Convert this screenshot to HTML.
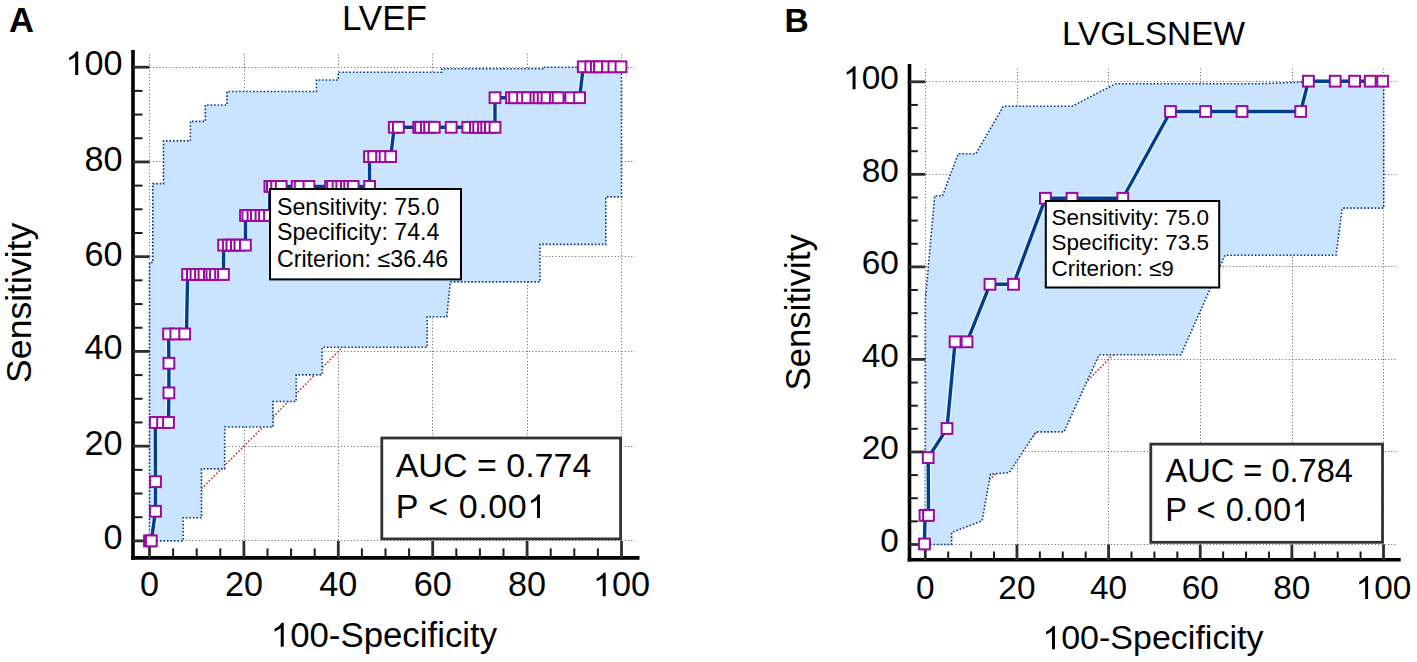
<!DOCTYPE html>
<html><head><meta charset="utf-8"><style>
html,body{margin:0;padding:0;background:#fff;width:1417px;height:662px;overflow:hidden}
svg{display:block}
text{font-family:'Liberation Sans',sans-serif;fill:#000}
</style></head><body>
<svg width="1417" height="662" viewBox="0 0 1417 662">
<rect width="1417" height="662" fill="#fff"/>
<g stroke="#5e5e5e" stroke-width="1" stroke-dasharray="1 2.3" fill="none"><line x1="149.5" y1="53.9" x2="149.5" y2="557.9"/><line x1="133" y1="540.5" x2="635" y2="540.5"/><line x1="244.5" y1="53.9" x2="244.5" y2="557.9"/><line x1="133" y1="446.5" x2="635" y2="446.5"/><line x1="338.5" y1="53.9" x2="338.5" y2="557.9"/><line x1="133" y1="351.5" x2="635" y2="351.5"/><line x1="432.5" y1="53.9" x2="432.5" y2="557.9"/><line x1="133" y1="256.5" x2="635" y2="256.5"/><line x1="527.5" y1="53.9" x2="527.5" y2="557.9"/><line x1="133" y1="161.5" x2="635" y2="161.5"/><line x1="621.5" y1="53.9" x2="621.5" y2="557.9"/><line x1="133" y1="67.5" x2="635" y2="67.5"/></g>
<line x1="149.5" y1="540.9" x2="621.5" y2="67.2" stroke="#c0302a" stroke-width="1.6" stroke-dasharray="1.6 1.9"/>
<polygon points="149.5,540.9 149.5,262.4 152.8,262.4 152.8,183.6 163.5,183.6 163.5,140.9 190.4,140.9 190.4,121.4 205.3,121.4 205.3,105 227,105 227,91.5 316.4,91.5 316.4,80 338.3,80 338.3,72.2 441.7,72.2 441.7,68.7 542.6,68.7 542.6,67.2 621.5,67.2 621.5,196.9 605.8,196.9 605.8,244.4 540,244.4 540,281.9 450.3,281.9 446.8,316.7 427.2,316.7 427.2,347.3 322.1,347.3 322.1,374.9 296.2,374.9 296.2,401.5 273,401.5 273,427 224.7,427 224.7,468.9 201.5,468.9 201.5,517.8 183.2,517.8 183.2,540.9" fill="#cae4ff" stroke="none"/>
<polygon points="149.5,540.9 149.5,262.4 152.8,262.4 152.8,183.6 163.5,183.6 163.5,140.9 190.4,140.9 190.4,121.4 205.3,121.4 205.3,105 227,105 227,91.5 316.4,91.5 316.4,80 338.3,80 338.3,72.2 441.7,72.2 441.7,68.7 542.6,68.7 542.6,67.2 621.5,67.2 621.5,196.9 605.8,196.9 605.8,244.4 540,244.4 540,281.9 450.3,281.9 446.8,316.7 427.2,316.7 427.2,347.3 322.1,347.3 322.1,374.9 296.2,374.9 296.2,401.5 273,401.5 273,427 224.7,427 224.7,468.9 201.5,468.9 201.5,517.8 183.2,517.8 183.2,540.9" fill="none" stroke="#08398f" stroke-width="1.6" stroke-dasharray="1.6 1.9"/>
<g fill="none">
<line x1="133" y1="50" x2="133" y2="559.7" stroke="#000" stroke-width="3.6"/>
<line x1="131.2" y1="557.9" x2="639.5" y2="557.9" stroke="#000" stroke-width="3.6"/>
<line x1="133" y1="540.9" x2="149.5" y2="540.9" stroke="#2e2e2e" stroke-width="2.8"/><line x1="149.5" y1="557.9" x2="149.5" y2="540.9" stroke="#2e2e2e" stroke-width="2.8"/><line x1="133" y1="517.21" x2="142.5" y2="517.21" stroke="#1a1a1a" stroke-width="2"/><line x1="173.1" y1="557.9" x2="173.1" y2="548.4" stroke="#1a1a1a" stroke-width="2"/><line x1="133" y1="493.53" x2="142.5" y2="493.53" stroke="#1a1a1a" stroke-width="2"/><line x1="196.7" y1="557.9" x2="196.7" y2="548.4" stroke="#1a1a1a" stroke-width="2"/><line x1="133" y1="469.84" x2="142.5" y2="469.84" stroke="#1a1a1a" stroke-width="2"/><line x1="220.3" y1="557.9" x2="220.3" y2="548.4" stroke="#1a1a1a" stroke-width="2"/><line x1="133" y1="446.16" x2="149.5" y2="446.16" stroke="#2e2e2e" stroke-width="2.8"/><line x1="243.9" y1="557.9" x2="243.9" y2="540.9" stroke="#2e2e2e" stroke-width="2.8"/><line x1="133" y1="422.47" x2="142.5" y2="422.47" stroke="#1a1a1a" stroke-width="2"/><line x1="267.5" y1="557.9" x2="267.5" y2="548.4" stroke="#1a1a1a" stroke-width="2"/><line x1="133" y1="398.79" x2="142.5" y2="398.79" stroke="#1a1a1a" stroke-width="2"/><line x1="291.1" y1="557.9" x2="291.1" y2="548.4" stroke="#1a1a1a" stroke-width="2"/><line x1="133" y1="375.1" x2="142.5" y2="375.1" stroke="#1a1a1a" stroke-width="2"/><line x1="314.7" y1="557.9" x2="314.7" y2="548.4" stroke="#1a1a1a" stroke-width="2"/><line x1="133" y1="351.42" x2="149.5" y2="351.42" stroke="#2e2e2e" stroke-width="2.8"/><line x1="338.3" y1="557.9" x2="338.3" y2="540.9" stroke="#2e2e2e" stroke-width="2.8"/><line x1="133" y1="327.74" x2="142.5" y2="327.74" stroke="#1a1a1a" stroke-width="2"/><line x1="361.9" y1="557.9" x2="361.9" y2="548.4" stroke="#1a1a1a" stroke-width="2"/><line x1="133" y1="304.05" x2="142.5" y2="304.05" stroke="#1a1a1a" stroke-width="2"/><line x1="385.5" y1="557.9" x2="385.5" y2="548.4" stroke="#1a1a1a" stroke-width="2"/><line x1="133" y1="280.36" x2="142.5" y2="280.36" stroke="#1a1a1a" stroke-width="2"/><line x1="409.1" y1="557.9" x2="409.1" y2="548.4" stroke="#1a1a1a" stroke-width="2"/><line x1="133" y1="256.68" x2="149.5" y2="256.68" stroke="#2e2e2e" stroke-width="2.8"/><line x1="432.7" y1="557.9" x2="432.7" y2="540.9" stroke="#2e2e2e" stroke-width="2.8"/><line x1="133" y1="232.99" x2="142.5" y2="232.99" stroke="#1a1a1a" stroke-width="2"/><line x1="456.3" y1="557.9" x2="456.3" y2="548.4" stroke="#1a1a1a" stroke-width="2"/><line x1="133" y1="209.31" x2="142.5" y2="209.31" stroke="#1a1a1a" stroke-width="2"/><line x1="479.9" y1="557.9" x2="479.9" y2="548.4" stroke="#1a1a1a" stroke-width="2"/><line x1="133" y1="185.62" x2="142.5" y2="185.62" stroke="#1a1a1a" stroke-width="2"/><line x1="503.5" y1="557.9" x2="503.5" y2="548.4" stroke="#1a1a1a" stroke-width="2"/><line x1="133" y1="161.94" x2="149.5" y2="161.94" stroke="#2e2e2e" stroke-width="2.8"/><line x1="527.1" y1="557.9" x2="527.1" y2="540.9" stroke="#2e2e2e" stroke-width="2.8"/><line x1="133" y1="138.25" x2="142.5" y2="138.25" stroke="#1a1a1a" stroke-width="2"/><line x1="550.7" y1="557.9" x2="550.7" y2="548.4" stroke="#1a1a1a" stroke-width="2"/><line x1="133" y1="114.57" x2="142.5" y2="114.57" stroke="#1a1a1a" stroke-width="2"/><line x1="574.3" y1="557.9" x2="574.3" y2="548.4" stroke="#1a1a1a" stroke-width="2"/><line x1="133" y1="90.88" x2="142.5" y2="90.88" stroke="#1a1a1a" stroke-width="2"/><line x1="597.9" y1="557.9" x2="597.9" y2="548.4" stroke="#1a1a1a" stroke-width="2"/><line x1="133" y1="67.2" x2="149.5" y2="67.2" stroke="#2e2e2e" stroke-width="2.8"/><line x1="621.5" y1="557.9" x2="621.5" y2="540.9" stroke="#2e2e2e" stroke-width="2.8"/>
</g>
<polyline points="149.5,540.9 151.3,540.9 155.5,511.29 155.5,481.69 155.3,422.47 162.6,422.47 168.5,422.47 168.9,392.87 168.9,363.26 168.6,333.96 175.8,333.96 184.7,333.96 186.5,333.96 187.6,274.44 192.4,274.44 196,274.44 200.5,274.44 204,274.44 209.4,274.44 211.9,274.44 215.4,274.44 220.6,274.44 223.5,274.44 223.6,245.14 228.3,245.14 231.9,245.14 236.4,245.14 239.9,245.14 245.4,245.14 245.5,215.43 247.9,215.43 253,215.43 256.4,215.43 261,215.43 264.5,215.43 269.5,215.43 269.9,186.42 272.4,186.42 276.7,186.42 281.2,186.42 297.2,186.42 300.2,186.42 309,186.42 330.5,186.42 332.6,186.42 338.1,186.42 341.8,186.42 346.4,186.42 349.7,186.42 353.2,186.42 369.6,186.42 369.5,156.62 373.7,156.62 381.6,156.62 385.1,156.62 390.7,156.62 394.3,127.31 398.4,127.31 418.7,127.31 420.6,127.31 426.4,127.31 429.6,127.31 434.3,127.31 451.2,127.31 467.8,127.31 475.4,127.31 478.7,127.31 483.5,127.31 486.7,127.31 490.4,127.31 495,127.31 495,97.71 511.5,97.71 514.6,97.71 522.6,97.71 527.6,97.71 535.9,97.71 539.1,97.71 543.2,97.71 547,97.71 555.3,97.71 558.1,97.71 570.8,97.71 579.6,97.71 583.3,66.8 590.8,66.8 596.3,66.8 599.5,66.8 607.5,66.8 613.9,66.8 621,66.8" fill="none" stroke="#e4f8ff" stroke-width="6" stroke-linejoin="round"/>
<polyline points="149.5,540.9 151.3,540.9 155.5,511.29 155.5,481.69 155.3,422.47 162.6,422.47 168.5,422.47 168.9,392.87 168.9,363.26 168.6,333.96 175.8,333.96 184.7,333.96 186.5,333.96 187.6,274.44 192.4,274.44 196,274.44 200.5,274.44 204,274.44 209.4,274.44 211.9,274.44 215.4,274.44 220.6,274.44 223.5,274.44 223.6,245.14 228.3,245.14 231.9,245.14 236.4,245.14 239.9,245.14 245.4,245.14 245.5,215.43 247.9,215.43 253,215.43 256.4,215.43 261,215.43 264.5,215.43 269.5,215.43 269.9,186.42 272.4,186.42 276.7,186.42 281.2,186.42 297.2,186.42 300.2,186.42 309,186.42 330.5,186.42 332.6,186.42 338.1,186.42 341.8,186.42 346.4,186.42 349.7,186.42 353.2,186.42 369.6,186.42 369.5,156.62 373.7,156.62 381.6,156.62 385.1,156.62 390.7,156.62 394.3,127.31 398.4,127.31 418.7,127.31 420.6,127.31 426.4,127.31 429.6,127.31 434.3,127.31 451.2,127.31 467.8,127.31 475.4,127.31 478.7,127.31 483.5,127.31 486.7,127.31 490.4,127.31 495,127.31 495,97.71 511.5,97.71 514.6,97.71 522.6,97.71 527.6,97.71 535.9,97.71 539.1,97.71 543.2,97.71 547,97.71 555.3,97.71 558.1,97.71 570.8,97.71 579.6,97.71 583.3,66.8 590.8,66.8 596.3,66.8 599.5,66.8 607.5,66.8 613.9,66.8 621,66.8" fill="none" stroke="#033d90" stroke-width="3.4" stroke-linejoin="round"/>
<g fill="#fff" stroke="#9a0aa0" stroke-width="2"><rect x="144.1" y="535.5" width="10.8" height="10.8"/><rect x="145.9" y="535.5" width="10.8" height="10.8"/><rect x="150.1" y="505.89" width="10.8" height="10.8"/><rect x="150.1" y="476.29" width="10.8" height="10.8"/><rect x="149.9" y="417.07" width="10.8" height="10.8"/><rect x="157.2" y="417.07" width="10.8" height="10.8"/><rect x="163.1" y="417.07" width="10.8" height="10.8"/><rect x="163.5" y="387.47" width="10.8" height="10.8"/><rect x="163.5" y="357.86" width="10.8" height="10.8"/><rect x="163.2" y="328.56" width="10.8" height="10.8"/><rect x="170.4" y="328.56" width="10.8" height="10.8"/><rect x="179.3" y="328.56" width="10.8" height="10.8"/><rect x="182.2" y="269.04" width="10.8" height="10.8"/><rect x="187" y="269.04" width="10.8" height="10.8"/><rect x="190.6" y="269.04" width="10.8" height="10.8"/><rect x="195.1" y="269.04" width="10.8" height="10.8"/><rect x="198.6" y="269.04" width="10.8" height="10.8"/><rect x="204" y="269.04" width="10.8" height="10.8"/><rect x="206.5" y="269.04" width="10.8" height="10.8"/><rect x="210" y="269.04" width="10.8" height="10.8"/><rect x="215.2" y="269.04" width="10.8" height="10.8"/><rect x="218.1" y="269.04" width="10.8" height="10.8"/><rect x="218.2" y="239.74" width="10.8" height="10.8"/><rect x="222.9" y="239.74" width="10.8" height="10.8"/><rect x="226.5" y="239.74" width="10.8" height="10.8"/><rect x="231" y="239.74" width="10.8" height="10.8"/><rect x="234.5" y="239.74" width="10.8" height="10.8"/><rect x="240" y="239.74" width="10.8" height="10.8"/><rect x="240.1" y="210.03" width="10.8" height="10.8"/><rect x="242.5" y="210.03" width="10.8" height="10.8"/><rect x="247.6" y="210.03" width="10.8" height="10.8"/><rect x="251" y="210.03" width="10.8" height="10.8"/><rect x="255.6" y="210.03" width="10.8" height="10.8"/><rect x="259.1" y="210.03" width="10.8" height="10.8"/><rect x="264.1" y="210.03" width="10.8" height="10.8"/><rect x="264.5" y="181.02" width="10.8" height="10.8"/><rect x="267" y="181.02" width="10.8" height="10.8"/><rect x="271.3" y="181.02" width="10.8" height="10.8"/><rect x="275.8" y="181.02" width="10.8" height="10.8"/><rect x="291.8" y="181.02" width="10.8" height="10.8"/><rect x="294.8" y="181.02" width="10.8" height="10.8"/><rect x="303.6" y="181.02" width="10.8" height="10.8"/><rect x="325.1" y="181.02" width="10.8" height="10.8"/><rect x="327.2" y="181.02" width="10.8" height="10.8"/><rect x="332.7" y="181.02" width="10.8" height="10.8"/><rect x="336.4" y="181.02" width="10.8" height="10.8"/><rect x="341" y="181.02" width="10.8" height="10.8"/><rect x="344.3" y="181.02" width="10.8" height="10.8"/><rect x="347.8" y="181.02" width="10.8" height="10.8"/><rect x="364.2" y="181.02" width="10.8" height="10.8"/><rect x="364.1" y="151.22" width="10.8" height="10.8"/><rect x="368.3" y="151.22" width="10.8" height="10.8"/><rect x="376.2" y="151.22" width="10.8" height="10.8"/><rect x="379.7" y="151.22" width="10.8" height="10.8"/><rect x="385.3" y="151.22" width="10.8" height="10.8"/><rect x="388.9" y="121.91" width="10.8" height="10.8"/><rect x="393" y="121.91" width="10.8" height="10.8"/><rect x="413.3" y="121.91" width="10.8" height="10.8"/><rect x="415.2" y="121.91" width="10.8" height="10.8"/><rect x="421" y="121.91" width="10.8" height="10.8"/><rect x="424.2" y="121.91" width="10.8" height="10.8"/><rect x="428.9" y="121.91" width="10.8" height="10.8"/><rect x="445.8" y="121.91" width="10.8" height="10.8"/><rect x="462.4" y="121.91" width="10.8" height="10.8"/><rect x="470" y="121.91" width="10.8" height="10.8"/><rect x="473.3" y="121.91" width="10.8" height="10.8"/><rect x="478.1" y="121.91" width="10.8" height="10.8"/><rect x="481.3" y="121.91" width="10.8" height="10.8"/><rect x="485" y="121.91" width="10.8" height="10.8"/><rect x="489.6" y="121.91" width="10.8" height="10.8"/><rect x="489.6" y="92.31" width="10.8" height="10.8"/><rect x="506.1" y="92.31" width="10.8" height="10.8"/><rect x="509.2" y="92.31" width="10.8" height="10.8"/><rect x="517.2" y="92.31" width="10.8" height="10.8"/><rect x="522.2" y="92.31" width="10.8" height="10.8"/><rect x="530.5" y="92.31" width="10.8" height="10.8"/><rect x="533.7" y="92.31" width="10.8" height="10.8"/><rect x="537.8" y="92.31" width="10.8" height="10.8"/><rect x="541.6" y="92.31" width="10.8" height="10.8"/><rect x="549.9" y="92.31" width="10.8" height="10.8"/><rect x="552.7" y="92.31" width="10.8" height="10.8"/><rect x="565.4" y="92.31" width="10.8" height="10.8"/><rect x="574.2" y="92.31" width="10.8" height="10.8"/><rect x="577.9" y="61.4" width="10.8" height="10.8"/><rect x="585.4" y="61.4" width="10.8" height="10.8"/><rect x="590.9" y="61.4" width="10.8" height="10.8"/><rect x="594.1" y="61.4" width="10.8" height="10.8"/><rect x="602.1" y="61.4" width="10.8" height="10.8"/><rect x="608.5" y="61.4" width="10.8" height="10.8"/><rect x="615.6" y="61.4" width="10.8" height="10.8"/></g>
<rect x="270" y="189" width="191" height="90.4" fill="#fff" stroke="#000" stroke-width="2"/>
<text x="277" y="214.5" font-size="23.2">Sensitivity: 75.0</text>
<text x="277" y="240.3" font-size="23.2">Specificity: 74.4</text>
<text x="277" y="266.8" font-size="23.2">Criterion: &#8804;36.46</text>
<rect x="381.8" y="438" width="238.8" height="100.9" fill="#fff" stroke="#333" stroke-width="2.8"/>
<text x="395.7" y="476.8" font-size="34">AUC = 0.774</text>
<text x="395.7" y="518" font-size="34" letter-spacing="0.58">P &lt; 0.00&#8199;</text>
<text x="122.5" y="548.8" font-size="34.2" text-anchor="end">0</text>
<text x="149.5" y="596.2" font-size="34.2" text-anchor="middle">0</text>
<text x="122.5" y="454.5" font-size="34.2" text-anchor="end">20</text>
<text x="243.9" y="596.2" font-size="34.2" text-anchor="middle">20</text>
<text x="122.5" y="358.8" font-size="34.2" text-anchor="end">40</text>
<text x="338.3" y="596.2" font-size="34.2" text-anchor="middle">40</text>
<text x="122.5" y="266.3" font-size="34.2" text-anchor="end">60</text>
<text x="432.7" y="596.2" font-size="34.2" text-anchor="middle">60</text>
<text x="122.5" y="171" font-size="34.2" text-anchor="end">80</text>
<text x="527.1" y="596.2" font-size="34.2" text-anchor="middle">80</text>
<text x="122.5" y="75.1" font-size="34.2" text-anchor="end">&#8199;00</text>
<text x="621.5" y="596.2" font-size="34.2" text-anchor="middle">&#8199;00</text>
<text x="383.95" y="646.8" font-size="34.8" text-anchor="middle">&#8199;00-Specificity</text>
<text transform="translate(31.2,302.8) rotate(-90)" x="0" y="0" font-size="35.6" text-anchor="middle">Sensitivity</text>
<text x="384.4" y="29.6" font-size="35" text-anchor="middle">LVEF</text>
<text x="8.9" y="31.5" font-size="34.5" font-weight="bold">A</text>
<g stroke="#5e5e5e" stroke-width="1" stroke-dasharray="1 2.3" fill="none"><line x1="925.5" y1="68.6" x2="925.5" y2="559.8"/><line x1="909.5" y1="544.5" x2="1397" y2="544.5"/><line x1="1017.5" y1="68.6" x2="1017.5" y2="559.8"/><line x1="909.5" y1="451.5" x2="1397" y2="451.5"/><line x1="1108.5" y1="68.6" x2="1108.5" y2="559.8"/><line x1="909.5" y1="359.5" x2="1397" y2="359.5"/><line x1="1200.5" y1="68.6" x2="1200.5" y2="559.8"/><line x1="909.5" y1="266.5" x2="1397" y2="266.5"/><line x1="1292.5" y1="68.6" x2="1292.5" y2="559.8"/><line x1="909.5" y1="174.5" x2="1397" y2="174.5"/><line x1="1383.5" y1="68.6" x2="1383.5" y2="559.8"/><line x1="909.5" y1="81.5" x2="1397" y2="81.5"/></g>
<line x1="925.3" y1="544.5" x2="1383.5" y2="81.8" stroke="#c0302a" stroke-width="1.6" stroke-dasharray="1.6 1.9"/>
<polygon points="925.3,544.5 925.3,300.6 934.7,195.8 942.5,195.8 958.2,153.7 975.9,153.7 1003.4,106.2 1072.2,106.2 1115.5,83.8 1257.5,83.8 1310,81.8 1383.7,81.8 1383.7,208.1 1342.3,208.1 1336,255.2 1225,255.2 1181,354.7 1099.1,354.7 1064,431.9 1035.9,431.9 1009.3,472.6 990.5,474 982.1,520.8 951.7,532.5 951.5,544.5" fill="#cae4ff" stroke="none"/>
<polygon points="925.3,544.5 925.3,300.6 934.7,195.8 942.5,195.8 958.2,153.7 975.9,153.7 1003.4,106.2 1072.2,106.2 1115.5,83.8 1257.5,83.8 1310,81.8 1383.7,81.8 1383.7,208.1 1342.3,208.1 1336,255.2 1225,255.2 1181,354.7 1099.1,354.7 1064,431.9 1035.9,431.9 1009.3,472.6 990.5,474 982.1,520.8 951.7,532.5 951.5,544.5" fill="none" stroke="#08398f" stroke-width="1.6" stroke-dasharray="1.6 1.9"/>
<g fill="none">
<line x1="909.5" y1="64" x2="909.5" y2="561.6" stroke="#000" stroke-width="3.6"/>
<line x1="907.7" y1="559.8" x2="1400.7" y2="559.8" stroke="#000" stroke-width="3.6"/>
<line x1="909.5" y1="544.5" x2="925.3" y2="544.5" stroke="#2e2e2e" stroke-width="2.8"/><line x1="925.3" y1="559.8" x2="925.3" y2="544.5" stroke="#2e2e2e" stroke-width="2.8"/><line x1="909.5" y1="521.37" x2="917.8" y2="521.37" stroke="#1a1a1a" stroke-width="2"/><line x1="948.21" y1="559.8" x2="948.21" y2="551.5" stroke="#1a1a1a" stroke-width="2"/><line x1="909.5" y1="498.23" x2="917.8" y2="498.23" stroke="#1a1a1a" stroke-width="2"/><line x1="971.12" y1="559.8" x2="971.12" y2="551.5" stroke="#1a1a1a" stroke-width="2"/><line x1="909.5" y1="475.1" x2="917.8" y2="475.1" stroke="#1a1a1a" stroke-width="2"/><line x1="994.03" y1="559.8" x2="994.03" y2="551.5" stroke="#1a1a1a" stroke-width="2"/><line x1="909.5" y1="451.96" x2="925.3" y2="451.96" stroke="#2e2e2e" stroke-width="2.8"/><line x1="1016.94" y1="559.8" x2="1016.94" y2="544.5" stroke="#2e2e2e" stroke-width="2.8"/><line x1="909.5" y1="428.82" x2="917.8" y2="428.82" stroke="#1a1a1a" stroke-width="2"/><line x1="1039.85" y1="559.8" x2="1039.85" y2="551.5" stroke="#1a1a1a" stroke-width="2"/><line x1="909.5" y1="405.69" x2="917.8" y2="405.69" stroke="#1a1a1a" stroke-width="2"/><line x1="1062.76" y1="559.8" x2="1062.76" y2="551.5" stroke="#1a1a1a" stroke-width="2"/><line x1="909.5" y1="382.56" x2="917.8" y2="382.56" stroke="#1a1a1a" stroke-width="2"/><line x1="1085.67" y1="559.8" x2="1085.67" y2="551.5" stroke="#1a1a1a" stroke-width="2"/><line x1="909.5" y1="359.42" x2="925.3" y2="359.42" stroke="#2e2e2e" stroke-width="2.8"/><line x1="1108.58" y1="559.8" x2="1108.58" y2="544.5" stroke="#2e2e2e" stroke-width="2.8"/><line x1="909.5" y1="336.28" x2="917.8" y2="336.28" stroke="#1a1a1a" stroke-width="2"/><line x1="1131.49" y1="559.8" x2="1131.49" y2="551.5" stroke="#1a1a1a" stroke-width="2"/><line x1="909.5" y1="313.15" x2="917.8" y2="313.15" stroke="#1a1a1a" stroke-width="2"/><line x1="1154.4" y1="559.8" x2="1154.4" y2="551.5" stroke="#1a1a1a" stroke-width="2"/><line x1="909.5" y1="290.01" x2="917.8" y2="290.01" stroke="#1a1a1a" stroke-width="2"/><line x1="1177.31" y1="559.8" x2="1177.31" y2="551.5" stroke="#1a1a1a" stroke-width="2"/><line x1="909.5" y1="266.88" x2="925.3" y2="266.88" stroke="#2e2e2e" stroke-width="2.8"/><line x1="1200.22" y1="559.8" x2="1200.22" y2="544.5" stroke="#2e2e2e" stroke-width="2.8"/><line x1="909.5" y1="243.75" x2="917.8" y2="243.75" stroke="#1a1a1a" stroke-width="2"/><line x1="1223.13" y1="559.8" x2="1223.13" y2="551.5" stroke="#1a1a1a" stroke-width="2"/><line x1="909.5" y1="220.61" x2="917.8" y2="220.61" stroke="#1a1a1a" stroke-width="2"/><line x1="1246.04" y1="559.8" x2="1246.04" y2="551.5" stroke="#1a1a1a" stroke-width="2"/><line x1="909.5" y1="197.48" x2="917.8" y2="197.48" stroke="#1a1a1a" stroke-width="2"/><line x1="1268.95" y1="559.8" x2="1268.95" y2="551.5" stroke="#1a1a1a" stroke-width="2"/><line x1="909.5" y1="174.34" x2="925.3" y2="174.34" stroke="#2e2e2e" stroke-width="2.8"/><line x1="1291.86" y1="559.8" x2="1291.86" y2="544.5" stroke="#2e2e2e" stroke-width="2.8"/><line x1="909.5" y1="151.21" x2="917.8" y2="151.21" stroke="#1a1a1a" stroke-width="2"/><line x1="1314.77" y1="559.8" x2="1314.77" y2="551.5" stroke="#1a1a1a" stroke-width="2"/><line x1="909.5" y1="128.07" x2="917.8" y2="128.07" stroke="#1a1a1a" stroke-width="2"/><line x1="1337.68" y1="559.8" x2="1337.68" y2="551.5" stroke="#1a1a1a" stroke-width="2"/><line x1="909.5" y1="104.94" x2="917.8" y2="104.94" stroke="#1a1a1a" stroke-width="2"/><line x1="1360.59" y1="559.8" x2="1360.59" y2="551.5" stroke="#1a1a1a" stroke-width="2"/><line x1="909.5" y1="81.8" x2="925.3" y2="81.8" stroke="#2e2e2e" stroke-width="2.8"/><line x1="1383.5" y1="559.8" x2="1383.5" y2="544.5" stroke="#2e2e2e" stroke-width="2.8"/>
</g>
<polyline points="924.5,544 925,515.4 928.5,515.4 928.2,457.6 947,428.5 955.1,341.8 967,341.8 990,284.3 1013.5,284.3 1045.4,198.3 1072,198.3 1122.8,198.3 1170.5,111.5 1205.6,111.5 1242,111.5 1300.7,111.5 1308.4,81.2 1335.2,81.2 1354.6,81.2 1370.3,81.2 1382.7,81.2" fill="none" stroke="#e4f8ff" stroke-width="6" stroke-linejoin="round"/>
<polyline points="924.5,544 925,515.4 928.5,515.4 928.2,457.6 947,428.5 955.1,341.8 967,341.8 990,284.3 1013.5,284.3 1045.4,198.3 1072,198.3 1122.8,198.3 1170.5,111.5 1205.6,111.5 1242,111.5 1300.7,111.5 1308.4,81.2 1335.2,81.2 1354.6,81.2 1370.3,81.2 1382.7,81.2" fill="none" stroke="#033d90" stroke-width="3.4" stroke-linejoin="round"/>
<g fill="#fff" stroke="#9a0aa0" stroke-width="2"><rect x="919.1" y="538.6" width="10.8" height="10.8"/><rect x="919.6" y="510" width="10.8" height="10.8"/><rect x="923.1" y="510" width="10.8" height="10.8"/><rect x="922.8" y="452.2" width="10.8" height="10.8"/><rect x="941.6" y="423.1" width="10.8" height="10.8"/><rect x="949.7" y="336.4" width="10.8" height="10.8"/><rect x="961.6" y="336.4" width="10.8" height="10.8"/><rect x="984.6" y="278.9" width="10.8" height="10.8"/><rect x="1008.1" y="278.9" width="10.8" height="10.8"/><rect x="1040" y="192.9" width="10.8" height="10.8"/><rect x="1066.6" y="192.9" width="10.8" height="10.8"/><rect x="1117.4" y="192.9" width="10.8" height="10.8"/><rect x="1165.1" y="106.1" width="10.8" height="10.8"/><rect x="1200.2" y="106.1" width="10.8" height="10.8"/><rect x="1236.6" y="106.1" width="10.8" height="10.8"/><rect x="1295.3" y="106.1" width="10.8" height="10.8"/><rect x="1303" y="75.8" width="10.8" height="10.8"/><rect x="1329.8" y="75.8" width="10.8" height="10.8"/><rect x="1349.2" y="75.8" width="10.8" height="10.8"/><rect x="1364.9" y="75.8" width="10.8" height="10.8"/><rect x="1377.3" y="75.8" width="10.8" height="10.8"/></g>
<rect x="1045.8" y="201" width="173.4" height="86.5" fill="#fff" stroke="#000" stroke-width="2"/>
<text x="1051.5" y="224.5" font-size="22.5">Sensitivity: 75.0</text>
<text x="1051.5" y="250" font-size="22.5">Specificity: 73.5</text>
<text x="1051.5" y="276.1" font-size="22.5">Criterion: &#8804;9</text>
<rect x="1150.8" y="444.1" width="231.7" height="98.2" fill="#fff" stroke="#333" stroke-width="2.8"/>
<text x="1165.5" y="481.5" font-size="32.6">AUC = 0.784</text>
<text x="1165.2" y="521.3" font-size="32.6" letter-spacing="0.6">P &lt; 0.00&#8199;</text>
<text x="898.8" y="551.9" font-size="33.4" text-anchor="end">0</text>
<text x="925.3" y="599" font-size="33.4" text-anchor="middle">0</text>
<text x="898.8" y="459.4" font-size="33.4" text-anchor="end">20</text>
<text x="1016.94" y="599" font-size="33.4" text-anchor="middle">20</text>
<text x="898.8" y="366.8" font-size="33.4" text-anchor="end">40</text>
<text x="1108.58" y="599" font-size="33.4" text-anchor="middle">40</text>
<text x="898.8" y="274.3" font-size="33.4" text-anchor="end">60</text>
<text x="1200.22" y="599" font-size="33.4" text-anchor="middle">60</text>
<text x="898.8" y="181.7" font-size="33.4" text-anchor="end">80</text>
<text x="1291.86" y="599" font-size="33.4" text-anchor="middle">80</text>
<text x="898.8" y="89.2" font-size="33.4" text-anchor="end">&#8199;00</text>
<text x="1383.5" y="599" font-size="33.4" text-anchor="middle">&#8199;00</text>
<text x="1152.85" y="649.3" font-size="34" text-anchor="middle">&#8199;00-Specificity</text>
<text transform="translate(809.9,312.3) rotate(-90)" x="0" y="0" font-size="34.7" text-anchor="middle">Sensitivity</text>
<text x="1153.45" y="44.9" font-size="33.4" text-anchor="middle">LVGLSNEW</text>
<text x="784.5" y="31.7" font-size="33.5" font-weight="bold">B</text>
<g fill="#000"><path transform="translate(527.33,518.00) scale(0.01660,-0.01660)" d="M763 0H583V1100Q518 1040 412 982T221 893V1060Q371 1128 483 1225T642 1409H763Z"/><path transform="translate(65.45,75.10) scale(0.01670,-0.01670)" d="M763 0H583V1100Q518 1040 412 982T221 893V1060Q371 1128 483 1225T642 1409H763Z"/><path transform="translate(592.98,596.20) scale(0.01670,-0.01670)" d="M763 0H583V1100Q518 1040 412 982T221 893V1060Q371 1128 483 1225T642 1409H763Z"/><path transform="translate(270.80,646.80) scale(0.01699,-0.01699)" d="M763 0H583V1100Q518 1040 412 982T221 893V1060Q371 1128 483 1225T642 1409H763Z"/><path transform="translate(1291.67,521.30) scale(0.01592,-0.01592)" d="M763 0H583V1100Q518 1040 412 982T221 893V1060Q371 1128 483 1225T642 1409H763Z"/><path transform="translate(843.08,89.20) scale(0.01631,-0.01631)" d="M763 0H583V1100Q518 1040 412 982T221 893V1060Q371 1128 483 1225T642 1409H763Z"/><path transform="translate(1355.64,599.00) scale(0.01631,-0.01631)" d="M763 0H583V1100Q518 1040 412 982T221 893V1060Q371 1128 483 1225T642 1409H763Z"/><path transform="translate(1042.30,649.30) scale(0.01660,-0.01660)" d="M763 0H583V1100Q518 1040 412 982T221 893V1060Q371 1128 483 1225T642 1409H763Z"/></g>
</svg></body></html>
